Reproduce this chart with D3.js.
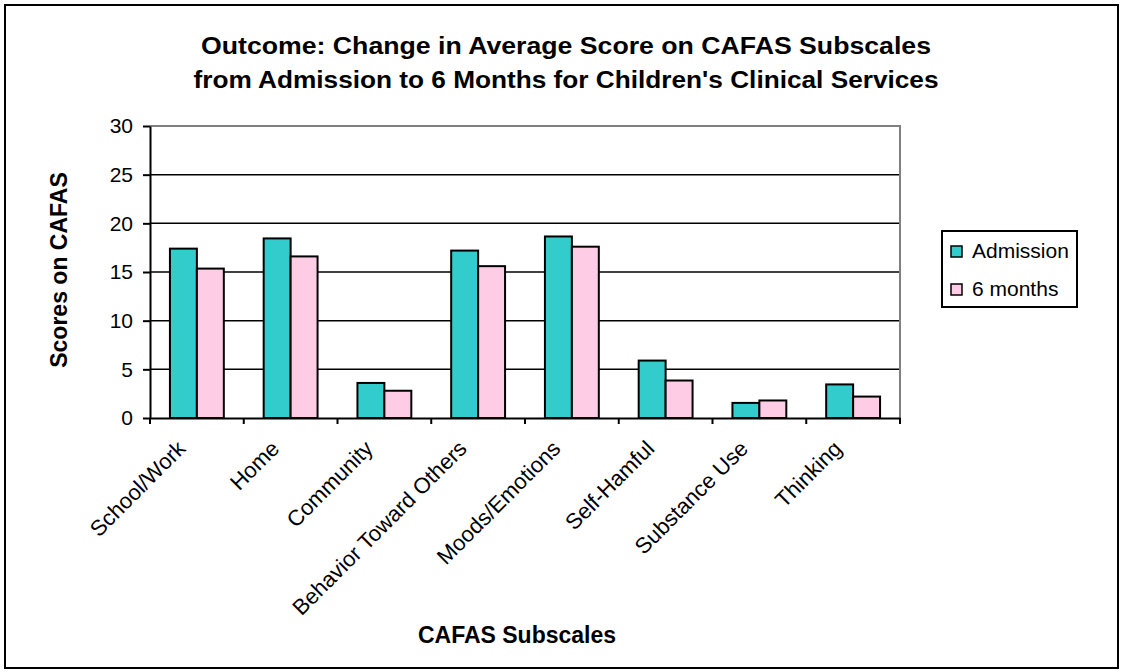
<!DOCTYPE html>
<html>
<head>
<meta charset="utf-8">
<script src="https://cdn.jsdelivr.net/npm/d3@7"></script>
<style>
    body { margin: 0; background: #fff; }
    text { font-family: "Liberation Sans", Arial, sans-serif; fill: #000; }
    .axis path, .axis line { stroke: #000; stroke-width: 2px; }
    .grid line { stroke: #000; stroke-width: 1.5px; }
    .bar { stroke: #000; stroke-width: 2px; }
</style>
</head>
<body>
<script>
var categories = ['School/Work', 'Home', 'Community', 'Behavior Toward Others',
    'Moods/Emotions', 'Self-Hamful', 'Substance Use', 'Thinking'];
var series = ['Admission', '6 months'];
var admission = [17.4, 18.45, 3.6, 17.2, 18.65, 5.9, 1.55, 3.45];
var sixMonths = [15.35, 16.6, 2.8, 15.6, 17.6, 3.85, 1.8, 2.2];
var yTicks = [0, 5, 10, 15, 20, 25, 30];
var colors = ['#33CCCC', '#FFCCE6'];

var svgWidth = 1121, svgHeight = 672;
var plot = { left: 150, right: 900, top: 126, bottom: 418 };

var dataset = categories.map(function(c, i) {
    return { cat: c, values: [admission[i], sixMonths[i]] };
});

var svg = d3.select('body')
    .append('svg')
    .attr('width', svgWidth)
    .attr('height', svgHeight);

// outer frame
svg.append('rect')
    .attr('x', 5).attr('y', 5)
    .attr('width', 1113).attr('height', 663)
    .attr('fill', '#fff')
    .attr('stroke', '#000')
    .attr('stroke-width', 2);

var xScale = d3.scaleBand()
    .domain(categories)
    .range([plot.left, plot.right])
    .paddingInner(0).paddingOuter(0);

var xInner = d3.scaleBand()
    .domain(series)
    .range([0, xScale.bandwidth()])
    .paddingInner(0)
    .paddingOuter(0.74);

var yScale = d3.scaleLinear()
    .domain([0, 30])
    .range([plot.bottom, plot.top]);

// gridlines
svg.append('g')
    .attr('class', 'grid')
    .selectAll('line')
    .data(yTicks.filter(function(t) { return t > 0 && t < 30; }))
    .enter().append('line')
    .attr('x1', plot.left).attr('x2', plot.right)
    .attr('y1', function(d) { return yScale(d); })
    .attr('y2', function(d) { return yScale(d); });

// gray plot border (top + right)
svg.append('path')
    .attr('d', 'M' + plot.left + ',' + yScale(30) + 'H' + plot.right + 'V' + plot.bottom)
    .attr('fill', 'none')
    .attr('stroke', '#808080')
    .attr('stroke-width', 2);

// bars
var groups = svg.selectAll('.cat')
    .data(dataset)
    .enter().append('g')
    .attr('class', 'cat')
    .attr('transform', function(d) { return 'translate(' + xScale(d.cat) + ',0)'; });

groups.selectAll('rect')
    .data(function(d) { return d.values.map(function(v, i) { return { s: series[i], v: v, i: i }; }); })
    .enter().append('rect')
    .attr('class', 'bar')
    .attr('x', function(d) { return xInner(d.s); })
    .attr('width', xInner.bandwidth())
    .attr('y', function(d) { return yScale(d.v); })
    .attr('height', function(d) { return yScale(0) - yScale(d.v); })
    .attr('fill', function(d) { return colors[d.i]; });

// y axis
var yAxis = d3.axisLeft(yScale).tickValues(yTicks).tickSize(7).tickPadding(10).tickSizeOuter(0);
var gy = svg.append('g')
    .attr('class', 'y axis')
    .attr('transform', 'translate(' + plot.left + ',0)')
    .call(yAxis);
gy.selectAll('text')
    .style('font-size', '21px')
    .style('font-family', '"Liberation Sans", Arial, sans-serif');

// x axis with ticks at category boundaries
var xAxis = d3.axisBottom(xScale).tickSize(0).tickFormat('').tickSizeOuter(0);
var gx = svg.append('g')
    .attr('class', 'x axis')
    .attr('transform', 'translate(0,' + plot.bottom + ')')
    .call(xAxis);
gx.selectAll('.tick').remove();
gx.selectAll('.bound')
    .data(categories.concat(['end']))
    .enter().append('line')
    .attr('class', 'bound')
    .attr('x1', function(d, i) { return plot.left + i * xScale.step(); })
    .attr('x2', function(d, i) { return plot.left + i * xScale.step(); })
    .attr('y1', 0).attr('y2', 6);

// category labels
svg.selectAll('.catLabel')
    .data(categories)
    .enter().append('text')
    .attr('class', 'catLabel')
    .attr('text-anchor', 'end')
    .attr('transform', function(d) {
        return 'translate(' + (xScale(d) + xScale.bandwidth() / 2 - 10) + ',' + (plot.bottom + 32) + ') rotate(-45)';
    })
    .style('font-size', '22px')
    .text(function(d) { return d; });

// title
var titleLines = ['Outcome: Change in Average Score on CAFAS Subscales',
    "from Admission to 6 Months for Children's Clinical Services"];
var titleWidths = [730, 745];
svg.selectAll('.title')
    .data(titleLines)
    .enter().append('text')
    .attr('class', 'title')
    .attr('x', 566)
    .attr('y', function(d, i) { return 54 + i * 34; })
    .attr('text-anchor', 'middle')
    .attr('textLength', function(d, i) { return titleWidths[i]; })
    .attr('lengthAdjust', 'spacingAndGlyphs')
    .style('font-size', '23px')
    .style('font-weight', 'bold')
    .text(function(d) { return d; });

// axis titles
svg.append('text')
    .attr('transform', 'translate(67,270) rotate(-90)')
    .attr('text-anchor', 'middle')
    .style('font-size', '23px')
    .style('font-weight', 'bold')
    .text('Scores on CAFAS');

svg.append('text')
    .attr('x', 517).attr('y', 643)
    .attr('text-anchor', 'middle')
    .style('font-size', '23px')
    .style('font-weight', 'bold')
    .text('CAFAS Subscales');

// legend
var legend = svg.append('g').attr('class', 'legend');
legend.append('rect')
    .attr('x', 942).attr('y', 231)
    .attr('width', 135).attr('height', 76)
    .attr('fill', '#fff')
    .attr('stroke', '#000')
    .attr('stroke-width', 2);

var items = legend.selectAll('.item')
    .data(series)
    .enter().append('g')
    .attr('class', 'item')
    .attr('transform', function(d, i) { return 'translate(951,' + (246 + i * 38) + ')'; });

items.append('rect')
    .attr('width', 11).attr('height', 11)
    .attr('fill', function(d, i) { return colors[i]; })
    .attr('stroke', '#000')
    .attr('stroke-width', 1.5);

items.append('text')
    .attr('x', 21).attr('y', 12)
    .style('font-size', '21px')
    .text(function(d) { return d; });
</script>
</body>
</html>
